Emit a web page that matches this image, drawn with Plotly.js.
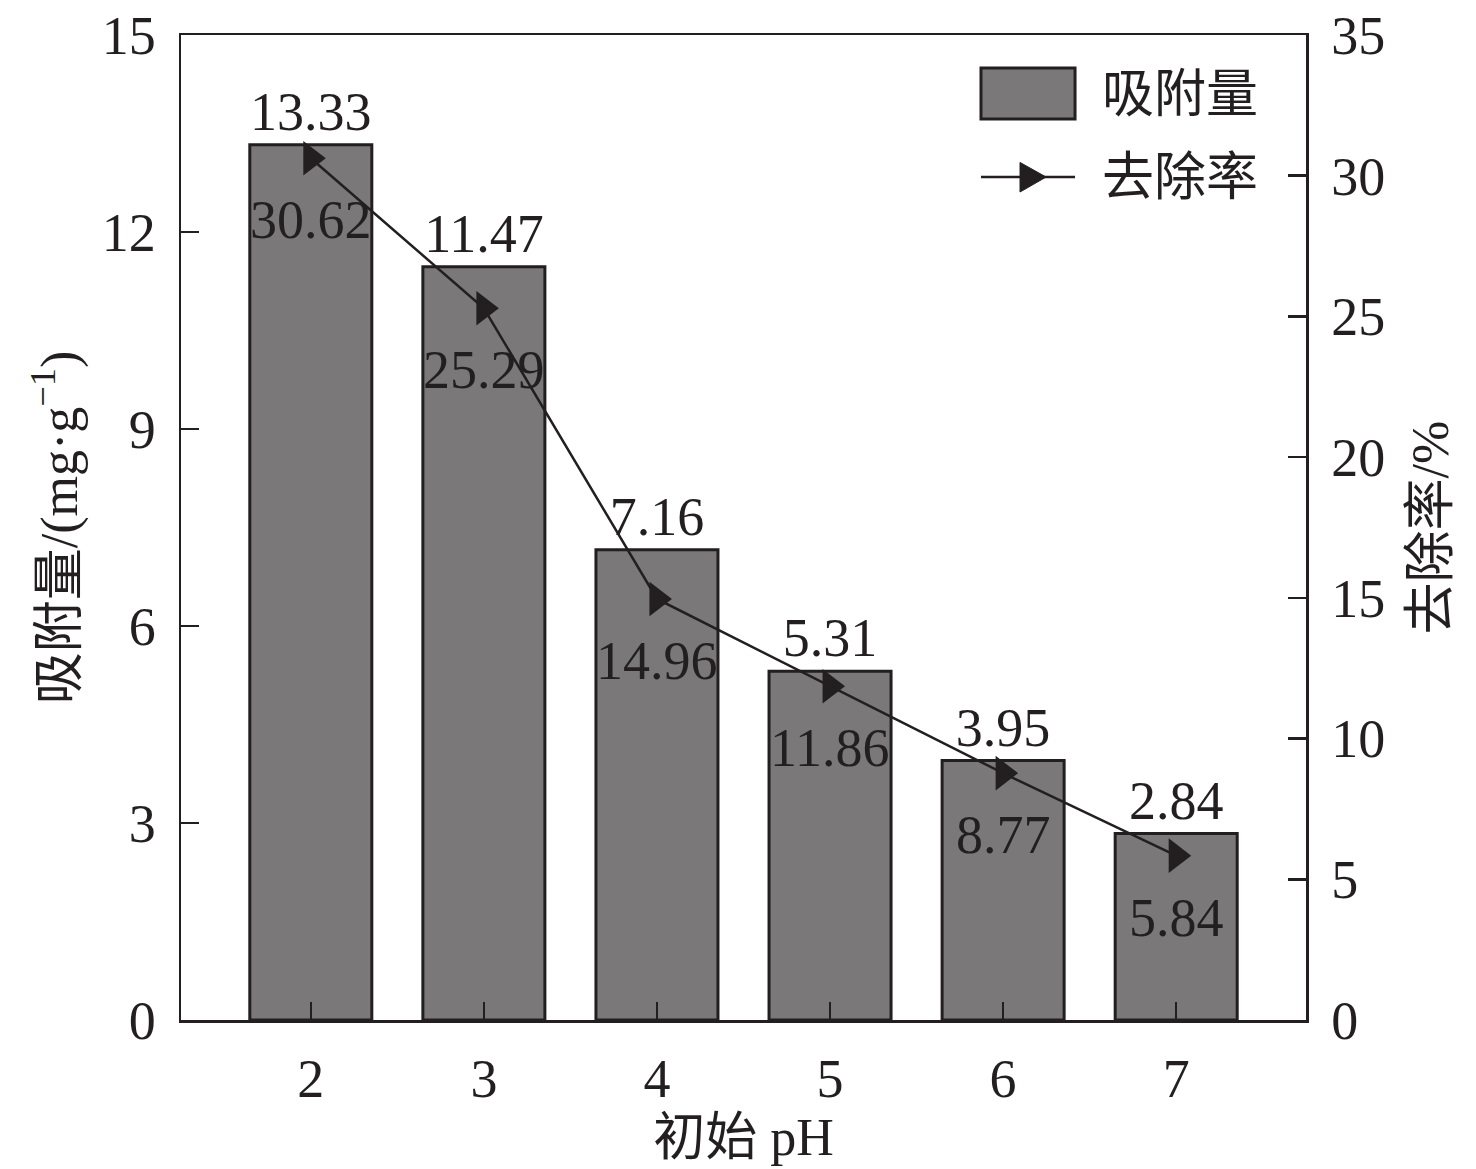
<!DOCTYPE html>
<html>
<head>
<meta charset="utf-8">
<script src="https://cdn.plot.ly/plotly-3.0.1.min.js"></script>
<style>
  html, body {margin:0; padding:0; background:#fff;}
  #chart {width:1476px; height:1169px;}
</style>
</head>
<body>
<div id="chart"></div>
<script>
// data
const ph_values = [2, 3, 4, 5, 6, 7];
const adsorption = [13.33, 11.47, 7.16, 5.31, 3.95, 2.84];   // mg/g, left axis
const removal = [30.62, 25.29, 14.96, 11.86, 8.77, 5.84];    // %, right axis
const x_ticks = ['2', '3', '4', '5', '6', '7'];
const series_names = ['吸附量', '去除率'];

const ink = '#231f20';
const bar_grey = '#7a7879';
const serif = 'Liberation Serif, Times New Roman, Noto Sans CJK SC, serif';

let traces = [];

traces.push({
    type: 'bar',
    name: series_names[0],
    x: ph_values, y: adsorption,
    width: 0.705,
    marker: {color: bar_grey, line: {color: ink, width: 3}},
    text: adsorption.map(v => v.toFixed(2)),
    textposition: 'outside',
    cliponaxis: false,
    textfont: {family: serif, size: 54, color: ink},
    yaxis: 'y',
});

traces.push({
    type: 'scatter',
    name: series_names[1],
    x: ph_values, y: removal,
    mode: 'lines+markers',
    line: {color: ink, width: 2.5},
    marker: {symbol: 'triangle-right', size: 30, color: ink},
    yaxis: 'y2',
});

// removal labels sit under each marker
let notes = ph_values.map((p, i) => ({
    x: p, y: removal[i], xref: 'x', yref: 'y2',
    text: removal[i].toFixed(2), showarrow: false,
    yshift: -62, font: {family: serif, size: 54, color: ink},
}));

// hand-drawn legend, top right inside the frame
let legend_shapes = [
    {type: 'rect', xref: 'paper', yref: 'paper', x0: 0.7111, x1: 0.7947, y0: 0.9147, y1: 0.9665,
     fillcolor: bar_grey, line: {color: ink, width: 3}},
    {type: 'line', xref: 'paper', yref: 'paper', x0: 0.7111, x1: 0.7947, y0: 0.8558, y1: 0.8558,
     line: {color: ink, width: 2.5}},
    {type: 'path', xref: 'paper', yref: 'paper', path: 'M0.7458,0.8706 L0.7690,0.8558 L0.7458,0.8406 Z',
     fillcolor: ink, line: {color: ink, width: 1}},
];
notes.push({xref: 'paper', yref: 'paper', x: 0.8169, y: 0.9391, xanchor: 'left', yanchor: 'middle',
    text: series_names[0], showarrow: false, font: {family: serif, size: 52, color: ink}});
notes.push({xref: 'paper', yref: 'paper', x: 0.8169, y: 0.8558, xanchor: 'left', yanchor: 'middle',
    text: series_names[1], showarrow: false, font: {family: serif, size: 52, color: ink}});

let layout = {
    width: 1476, height: 1169,
    margin: {l: 181, r: 170, t: 35, b: 149},
    paper_bgcolor: '#fff', plot_bgcolor: '#fff',
    font: {family: serif, size: 52, color: ink},
    showlegend: false,
    xaxis: {
        range: [1.25, 7.75],
        tickvals: ph_values, ticktext: x_ticks,
        ticks: 'inside', ticklen: 18, tickwidth: 2.5, tickcolor: ink,
        showline: true, linecolor: ink, linewidth: 2.5, mirror: true,
        showgrid: false, zeroline: false,
        ticklabelstandoff: 10,
        tickfont: {family: serif, size: 54, color: ink},
        title: {text: '初始 pH', standoff: 10, font: {family: serif, size: 52, color: ink}},
    },
    yaxis: {
        range: [0, 15], tickvals: [0, 3, 6, 9, 12, 15],
        ticks: 'inside', ticklen: 18, tickwidth: 2.5, tickcolor: ink,
        showline: true, linecolor: ink, linewidth: 2.5,
        showgrid: false, zeroline: false,
        ticklabelstandoff: 12,
        tickfont: {family: serif, size: 54, color: ink},
        title: {text: '吸附量/(mg·g<sup>−1</sup>)', standoff: 8, font: {family: serif, size: 52, color: ink}},
    },
    yaxis2: {
        overlaying: 'y', side: 'right',
        range: [0, 35], tickvals: [0, 5, 10, 15, 20, 25, 30, 35],
        ticks: 'inside', ticklen: 18, tickwidth: 2.5, tickcolor: ink,
        showline: true, linecolor: ink, linewidth: 2.5,
        showgrid: false, zeroline: false,
        ticklabelstandoff: 12,
        tickfont: {family: serif, size: 54, color: ink},
        title: {text: '去除率/%', standoff: 28, font: {family: serif, size: 52, color: ink}},
    },
    shapes: legend_shapes,
    annotations: notes,
};

Plotly.newPlot(document.getElementById('chart'), traces, layout, {staticPlot: true});
</script>
</body>
</html>
